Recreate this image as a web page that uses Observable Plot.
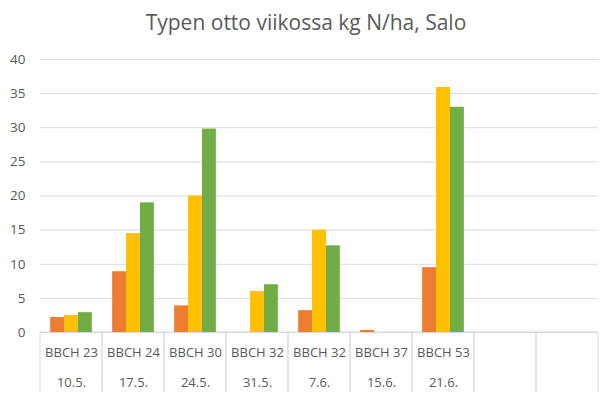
<!DOCTYPE html>
<html>
<head>
<meta charset="utf-8">
<script src="https://cdn.jsdelivr.net/npm/d3@7"></script>
<script src="https://cdn.jsdelivr.net/npm/@observablehq/plot@0.6"></script>
<style>
  html, body { margin: 0; padding: 0; background: #ffffff; }
  #wrap { position: relative; width: 612px; height: 398px; overflow: hidden; font-family: "Open Sans", sans-serif; }
  #title { position: absolute; top: 8px; left: 0; width: 612px; text-align: center; font-size: 21px; line-height: 28px; color: #595959; }
  #chart { position: absolute; top: 0; left: 0; }
</style>
</head>
<body>
<div id="wrap">
  <div id="chart"></div>
  <div id="title">Typen otto viikossa kg N/ha, Salo</div>
</div>
<script>
// Category labels (two-level axis): growth stage and date; last two slots are empty
const stages = ["BBCH 23", "BBCH 24", "BBCH 30", "BBCH 32", "BBCH 32", "BBCH 37", "BBCH 53", "", ""];
const dates = ["10.5.", "17.5.", "24.5.", "31.5.", "7.6.", "15.6.", "21.6.", "", ""];

// Series (names not shown in the reference)
const seriesNames = ["Sarja 1", "Sarja 2", "Sarja 3"];
const series1 = [2.2, 8.9, 3.9, null, 3.2, 0.3, 9.5, null, null];
const series2 = [2.5, 14.5, 20.0, 6.0, 15.0, null, 35.9, null, null];
const series3 = [2.9, 19.0, 29.8, 7.0, 12.7, null, 33.0, null, null];
const seriesColors = ["#ED7D31", "#FFC000", "#70AD47"];

const yTicks = [0, 5, 10, 15, 20, 25, 30, 35, 40];

const slots = stages.map((_, i) => i);
const seriesValues = [series1, series2, series3];
const rows = [];
seriesValues.forEach((vals, s) => {
  vals.forEach((v, i) => {
    if (v != null) rows.push({slot: i, series: seriesNames[s], value: v});
  });
});

const chart = Plot.plot({
  width: 612,
  height: 392,
  marginLeft: 37,
  marginRight: 12,
  marginTop: 59,
  marginBottom: 60,
  style: {fontFamily: "'Open Sans', sans-serif", fontSize: "13px", color: "#595959", background: "transparent"},
  fx: {domain: slots, padding: 0, label: null},
  x: {domain: seriesNames, paddingInner: 0, paddingOuter: 0.73, axis: null, round: false},
  y: {domain: [0, 40], label: null},
  color: {domain: seriesNames, range: seriesColors},
  marks: [
    Plot.gridY(yTicks, {stroke: "#D9D9D9", strokeOpacity: 1, strokeWidth: 1}),
    Plot.rect(slots, {fx: (d) => d, y1: 0, y2: -20, stroke: "#D9D9D9", strokeWidth: 1, fill: "none"}),
    Plot.barY(rows, {fx: "slot", x: "series", y: "value", fill: "series"}),
    Plot.axisY(yTicks, {tickSize: 0, tickPadding: 15, label: null, fontSize: 13.5}),
    Plot.axisFx({anchor: "bottom", tickSize: 0, tickPadding: 15, label: null, fontSize: 13, tickFormat: (i) => stages[i]}),
    Plot.axisFx({anchor: "bottom", tickSize: 0, tickPadding: 45, label: null, fontSize: 13, tickFormat: (i) => dates[i]})
  ]
});
document.getElementById("chart").appendChild(chart);
</script>
</body>
</html>
